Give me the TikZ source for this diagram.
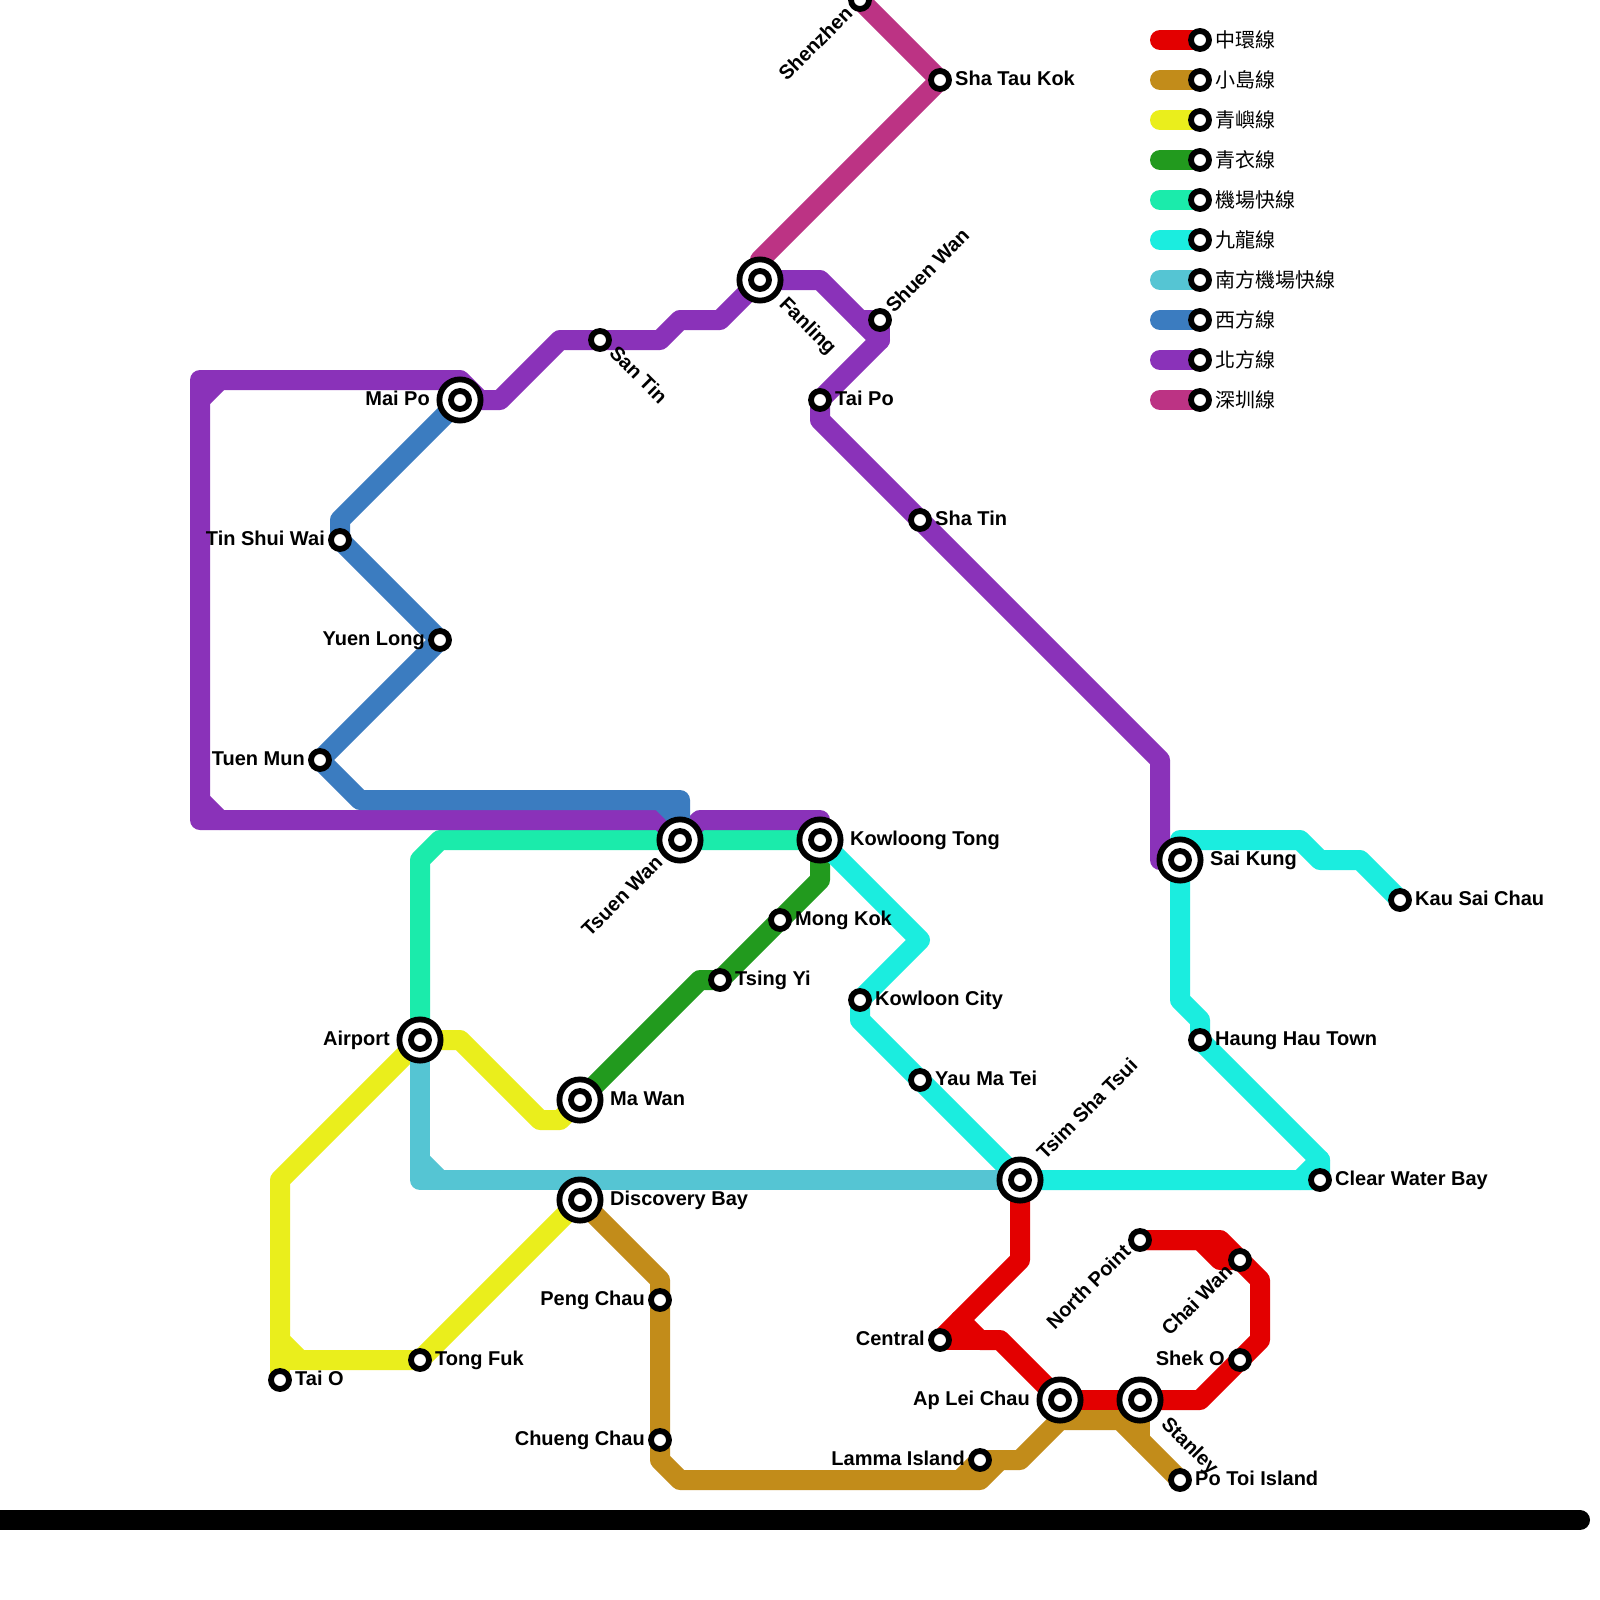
\documentclass[tikz,border=0pt]{standalone}
\usepackage{fontspec}
\setmainfont{Liberation Sans}
\newfontfamily\cjk{Noto Sans CJK TC}
\definecolor{lred}{HTML}{E30000}
\definecolor{lbrown}{HTML}{C28C1A}
\definecolor{lyellow}{HTML}{EAEE1C}
\definecolor{lgreen}{HTML}{229A1E}
\definecolor{lsea}{HTML}{1BEBAB}
\definecolor{lcyan}{HTML}{1BEDDF}
\definecolor{lsky}{HTML}{55C5D3}
\definecolor{lblue}{HTML}{3B7CC0}
\definecolor{lpurple}{HTML}{8A32B9}
\definecolor{lmagenta}{HTML}{BC3384}
\tikzset{
  x=1pt,y=-1pt,
  route/.style={line width=20pt,line join=round,line cap=round},
  stn/.style={circle,draw=black,line width=5.8pt,fill=white,minimum size=18pt,inner sep=0pt,outer sep=0pt},
  hubouter/.style={circle,draw=black,line width=5.8pt,fill=white,minimum size=41.2pt,inner sep=0pt,outer sep=0pt},
  hubinner/.style={circle,draw=black,line width=5.8pt,fill=white,minimum size=18pt,inner sep=0pt,outer sep=0pt},
  lab/.style={font=\bfseries\fontsize{20pt}{22pt}\selectfont,inner sep=0pt,text=black},
  lr/.style={lab,anchor=mid west},
  ll/.style={lab,anchor=mid east},
  ru/.style={lab,anchor=mid west,rotate=45},
  rd/.style={lab,anchor=mid west,rotate=-45},
  lu/.style={lab,anchor=mid east,rotate=45},
  keytext/.style={font=\cjk\fontsize{20pt}{22pt}\selectfont,inner sep=0pt,anchor=mid west,text=black},
}
\begin{document}
\begin{tikzpicture}
\useasboundingbox (0,0) rectangle (1600,1600);
\clip (0,0) rectangle (1600,1600);
\fill[white] (0,0) rectangle (1600,1600);
% station positions
\coordinate (cShenzhen) at (860,0);
\coordinate (cShaTauKok) at (940,80);
\coordinate (cFanling) at (760,280);
\coordinate (cShuenWan) at (880,320);
\coordinate (cTaiPo) at (820,400);
\coordinate (cShaTin) at (920,520);
\coordinate (cSanTin) at (600,340);
\coordinate (cMaiPo) at (460,400);
\coordinate (cTinShuiWai) at (340,540);
\coordinate (cYuenLong) at (440,640);
\coordinate (cTuenMun) at (320,760);
\coordinate (cTsuenWan) at (680,840);
\coordinate (cKowloongTong) at (820,840);
\coordinate (cMongKok) at (780,920);
\coordinate (cTsingYi) at (720,980);
\coordinate (cKowloonCity) at (860,1000);
\coordinate (cYauMaTei) at (920,1080);
\coordinate (cTsimShaTsui) at (1020,1180);
\coordinate (cAirport) at (420,1040);
\coordinate (cMaWan) at (580,1100);
\coordinate (cDiscoveryBay) at (580,1200);
\coordinate (cTaiO) at (280,1380);
\coordinate (cTongFuk) at (420,1360);
\coordinate (cPengChau) at (660,1300);
\coordinate (cChuengChau) at (660,1440);
\coordinate (cCentral) at (940,1340);
\coordinate (cApLeiChau) at (1060,1400);
\coordinate (cStanley) at (1140,1400);
\coordinate (cNorthPoint) at (1140,1240);
\coordinate (cChaiWan) at (1240,1260);
\coordinate (cShekO) at (1240,1360);
\coordinate (cLamma) at (980,1460);
\coordinate (cPoToi) at (1180,1480);
\coordinate (cSaiKung) at (1180,860);
\coordinate (cKauSaiChau) at (1400,900);
\coordinate (cHaungHau) at (1200,1040);
\coordinate (cClearWater) at (1320,1180);
\coordinate (barL) at (-30,1520);
\coordinate (barR) at (1580,1520);
% base bar
\draw[route,black] (barL) -- (barR);
% red
\draw[route,lred] (cTsimShaTsui) -- (1020,1260) -- (960,1320) -- (980,1340) -- (1000,1340) -- (cApLeiChau) -- (cStanley) -- (1200,1400) -- (cShekO) -- (1260,1340) -- (1260,1280) -- (cChaiWan) -- (1220,1240) -- (cNorthPoint);
\draw[route,lred] (cCentral) -- (960,1320);
\draw[route,lred] (cCentral) -- (980,1340);
\draw[route,lred] (cNorthPoint) -- (1200,1240) -- (1220,1260) -- (cChaiWan);
% brown
\draw[route,lbrown] (cDiscoveryBay) -- (660,1280) -- (cPengChau) -- (cChuengChau) -- (660,1460) -- (680,1480) -- (960,1480) -- (cLamma) -- (1020,1460) -- (1060,1420) -- (1120,1420) -- (cPoToi);
\draw[route,lbrown] (960,1480) -- (980,1480) -- (1000,1460);
\draw[route,lbrown] (cApLeiChau) -- (1060,1420);
\draw[route,lbrown] (cStanley) -- (1140,1440);
% yellow
\draw[route,lyellow] (cAirport) -- (280,1180) -- (280,1340) -- (300,1360) -- (cTongFuk) -- (cDiscoveryBay);
\draw[route,lyellow] (280,1340) -- (cTaiO);
\draw[route,lyellow] (280,1360) -- (300,1360);
\draw[route,lyellow] (cAirport) -- (460,1040) -- (540,1120) -- (560,1120) -- (cMaWan);
% dark green
\draw[route,lgreen] (cMaWan) -- (700,980) -- (cTsingYi) -- (820,880) -- (cKowloongTong);
% airport express
\draw[route,lsea] (cAirport) -- (420,860) -- (440,840) -- (cKowloongTong);
% Kowloon line
\draw[route,lcyan] (cKowloongTong) -- (920,940) -- (cKowloonCity) -- (860,1020) -- (cTsimShaTsui) -- (cClearWater) -- (1320,1160) -- (cHaungHau) -- (1200,1020) -- (1180,1000) -- (cSaiKung) -- (1180,840) -- (1300,840) -- (1320,860) -- (1360,860) -- (cKauSaiChau);
\draw[route,lcyan] (1300,1180) -- (1320,1160);
% south airport express
\draw[route,lsky] (cAirport) -- (420,1180) -- (cTsimShaTsui);
\draw[route,lsky] (420,1160) -- (440,1180);
% purple
\draw[route,lpurple] (cMaiPo) -- (500,400) -- (560,340) -- (660,340) -- (680,320) -- (720,320) -- (cFanling) -- (820,280) -- (880,340) -- (820,400) -- (820,420) -- (1160,760) -- (1160,860) -- (cSaiKung);
\draw[route,lpurple] (860,320) -- (880,320) -- (880,340);
\draw[route,lpurple] (480,400) -- (460,380) -- (200,380) -- (200,820) -- (660,820) -- (cTsuenWan);
\draw[route,lpurple] (200,400) -- (220,380);
\draw[route,lpurple] (200,800) -- (220,820);
\draw[route,lpurple] (cTsuenWan) -- (700,820) -- (820,820) -- (cKowloongTong);
% blue
\draw[route,lblue] (cMaiPo) -- (340,520) -- (cTinShuiWai) -- (cYuenLong) -- (cTuenMun) -- (360,800) -- (680,800) -- (cTsuenWan);
\draw[route,lblue] (660,800) -- (680,820);
% Shenzhen
\draw[route,lmagenta] (cShenzhen) -- (cShaTauKok) -- (760,260) -- (cFanling);
% legend
\foreach \yy/\col in {40/lred,80/lbrown,120/lyellow,160/lgreen,200/lsea,240/lcyan,280/lsky,320/lblue,360/lpurple,400/lmagenta}{
  \draw[route,\col] (1160,\yy) -- (1200,\yy);
}
\foreach \yy/\nm/\txt in {40/a/中環線,80/b/小島線,120/c/青嶼線,160/d/青衣線,200/e/機場快線,240/f/九龍線,280/g/南方機場快線,320/h/西方線,360/i/北方線,400/j/深圳線}{
  \node[stn] (key\nm) at (1200,\yy) {};
  \node[keytext] (keylab\nm) at (1215,\yy+5) {\txt};
}
% small stations
\foreach \n in {Shenzhen,ShaTauKok,ShuenWan,TaiPo,ShaTin,SanTin,TinShuiWai,YuenLong,TuenMun,MongKok,TsingYi,KowloonCity,YauMaTei,TaiO,TongFuk,PengChau,ChuengChau,Central,NorthPoint,ChaiWan,ShekO,Lamma,PoToi,KauSaiChau,HaungHau,ClearWater}{
  \node[stn] (s\n) at (c\n) {};
}
% interchange stations
\foreach \n in {Fanling,MaiPo,TsuenWan,KowloongTong,TsimShaTsui,Airport,MaWan,DiscoveryBay,ApLeiChau,Stanley,SaiKung}{
  \node[hubouter] (s\n) at (c\n) {};
  \node[hubinner] (i\n) at (c\n) {};
}
% labels
\node[lu] (tShenzhen) at ([shift={(-8,13)}]cShenzhen) {Shenzhen};
\node[lr] (tShaTauKok) at ([shift={(15,3)}]cShaTauKok) {Sha Tau Kok};
\node[rd] (tFanling) at ([shift={(20,23)}]cFanling) {Fanling};
\node[ru] (tShuenWan) at ([shift={(12,-8)}]cShuenWan) {Shuen Wan};
\node[lr] (tTaiPo) at ([shift={(15,3)}]cTaiPo) {Tai Po};
\node[lr] (tShaTin) at ([shift={(15,3)}]cShaTin) {Sha Tin};
\node[rd] (tSanTin) at ([shift={(10,12)}]cSanTin) {San Tin};
\node[ll] (tMaiPo) at ([shift={(-30,3)}]cMaiPo) {Mai Po};
\node[ll] (tTinShuiWai) at ([shift={(-15,3)}]cTinShuiWai) {Tin Shui Wai};
\node[ll] (tYuenLong) at ([shift={(-15,3)}]cYuenLong) {Yuen Long};
\node[ll] (tTuenMun) at ([shift={(-15,3)}]cTuenMun) {Tuen Mun};
\node[lu] (tTsuenWan) at ([shift={(-18,22)}]cTsuenWan) {Tsuen Wan};
\node[lr] (tKowloongTong) at ([shift={(30,3)}]cKowloongTong) {Kowloong Tong};
\node[lr] (tMongKok) at ([shift={(15,3)}]cMongKok) {Mong Kok};
\node[lr] (tTsingYi) at ([shift={(15,3)}]cTsingYi) {Tsing Yi};
\node[lr] (tKowloonCity) at ([shift={(15,3)}]cKowloonCity) {Kowloon City};
\node[lr] (tYauMaTei) at ([shift={(15,3)}]cYauMaTei) {Yau Ma Tei};
\node[ru] (tTsimShaTsui) at ([shift={(23,-21)}]cTsimShaTsui) {Tsim Sha Tsui};
\node[ll] (tAirport) at ([shift={(-30,3)}]cAirport) {Airport};
\node[lr] (tMaWan) at ([shift={(30,3)}]cMaWan) {Ma Wan};
\node[lr] (tDiscoveryBay) at ([shift={(30,3)}]cDiscoveryBay) {Discovery Bay};
\node[lr] (tTaiO) at ([shift={(15,3)}]cTaiO) {Tai O};
\node[lr] (tTongFuk) at ([shift={(15,3)}]cTongFuk) {Tong Fuk};
\node[ll] (tPengChau) at ([shift={(-15,3)}]cPengChau) {Peng Chau};
\node[ll] (tChuengChau) at ([shift={(-15,3)}]cChuengChau) {Chueng Chau};
\node[ll] (tCentral) at ([shift={(-15,3)}]cCentral) {Central};
\node[ll] (tApLeiChau) at ([shift={(-30,3)}]cApLeiChau) {Ap Lei Chau};
\node[rd] (tStanley) at ([shift={(22,23)}]cStanley) {Stanley};
\node[lu] (tNorthPoint) at ([shift={(-10,11)}]cNorthPoint) {North Point};
\node[lu] (tChaiWan) at ([shift={(-8,11)}]cChaiWan) {Chai Wan};
\node[ll] (tShekO) at ([shift={(-15,3)}]cShekO) {Shek O};
\node[ll] (tLamma) at ([shift={(-15,3)}]cLamma) {Lamma Island};
\node[lr] (tPoToi) at ([shift={(15,3)}]cPoToi) {Po Toi Island};
\node[lr] (tSaiKung) at ([shift={(30,3)}]cSaiKung) {Sai Kung};
\node[lr] (tKauSaiChau) at ([shift={(15,3)}]cKauSaiChau) {Kau Sai Chau};
\node[lr] (tHaungHau) at ([shift={(15,3)}]cHaungHau) {Haung Hau Town};
\node[lr] (tClearWater) at ([shift={(15,3)}]cClearWater) {Clear Water Bay};
\end{tikzpicture}
\end{document}
